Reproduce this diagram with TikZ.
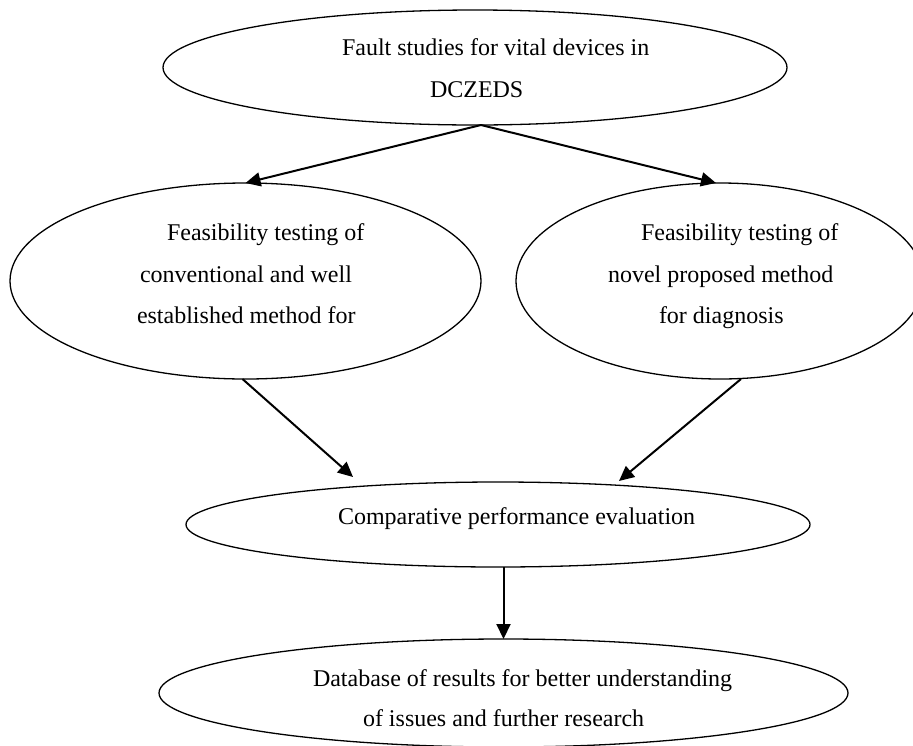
\documentclass[tikz,border=0pt]{standalone}
\usepackage{fontspec}
\setmainfont{Liberation Serif}
\usetikzlibrary{shapes.geometric,arrows.meta}

\tikzset{
  oval/.style={draw, ellipse, line width=1.3pt, inner sep=0pt, outer sep=0pt},
  flow/.style={line width=2pt, -{Triangle[length=15pt,width=14pt]}},
  txt/.style={anchor=base west, inner sep=0pt, outer sep=0pt,
              font=\fontsize{24}{28}\selectfont}
}

\begin{document}
\begin{tikzpicture}[x=1pt, y=-1pt]
  \useasboundingbox (0,0) rectangle (913,745);

  % ellipses
  \node[oval, minimum width=624pt, minimum height=115pt] (top)   at (475,67.5) {};
  \node[oval, minimum width=471pt, minimum height=196pt] (left)  at (245.5,281) {};
  \node[oval, minimum width=408pt, minimum height=196pt] (right) at (720,281) {};
  \node[oval, minimum width=624pt, minimum height=85pt]  (comp)  at (498,524.5) {};
  \node[oval, minimum width=689pt, minimum height=108pt] (bot)   at (503.5,693) {};

  % texts
  \node[txt] (topA)   at (342,55)  {Fault studies for vital devices in};
  \node[txt] (topB)   at (430,97)  {DCZEDS};
  \node[txt] (leftA)  at (167,240) {Feasibility testing of};
  \node[txt] (leftB)  at (140,282) {conventional and well};
  \node[txt] (leftC)  at (137,323) {established method for};
  \node[txt] (rightA) at (641,240) {Feasibility testing of};
  \node[txt] (rightB) at (608,282) {novel proposed method};
  \node[txt] (rightC) at (659,323) {for diagnosis};
  \node[txt] (compA)  at (338,524) {Comparative performance evaluation};
  \node[txt] (botA)   at (313,686) {Database of results for better understanding};
  \node[txt] (botB)   at (363,726) {of issues and further research};

  % connectors
  \draw[flow] ([xshift=6pt]top.south) -- (left.north);
  \draw[flow] ([xshift=6pt]top.south) -- ([xshift=-4pt]right.north);
  \draw[flow] ([xshift=-3pt]left.south) -- ([xshift=-145pt,yshift=5pt]comp.north);
  \draw[flow] ([xshift=21pt]right.south) -- ([xshift=121pt,yshift=1pt]comp.north);
  \draw[flow] (comp.south -| bot.north) -- (bot.north);
\end{tikzpicture}
\end{document}
